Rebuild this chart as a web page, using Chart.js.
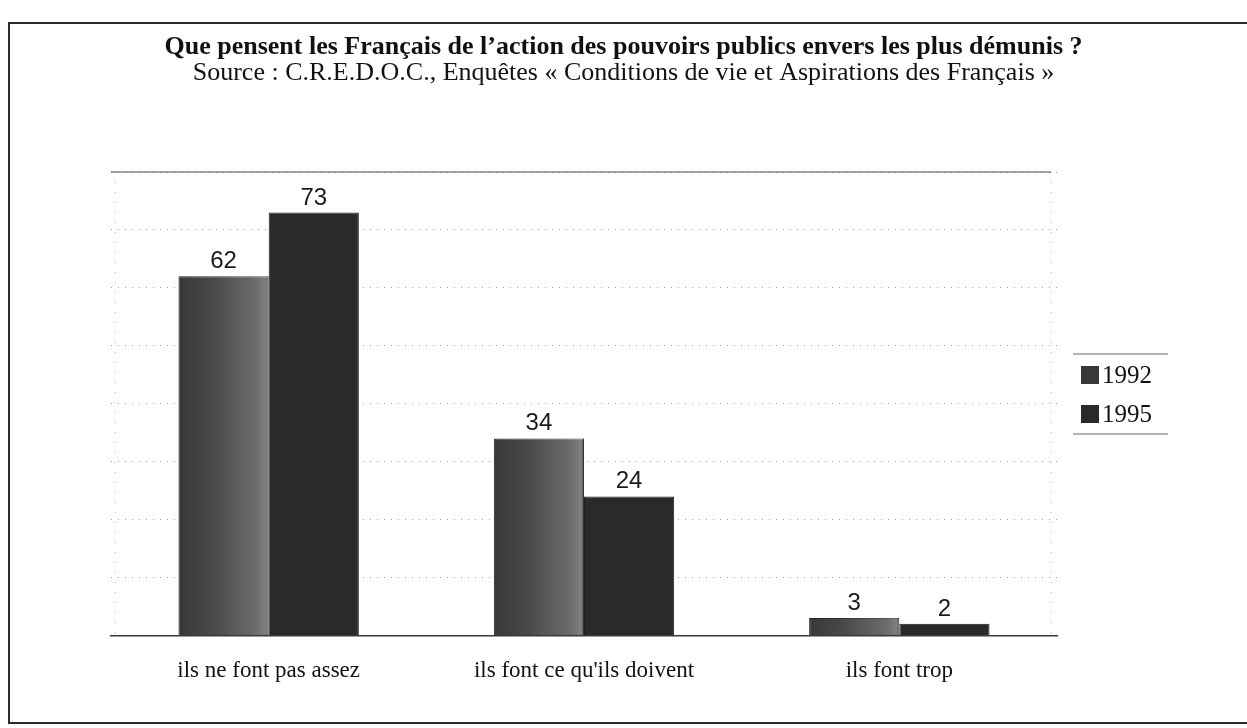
<!DOCTYPE html>
<html>
<head>
<meta charset="utf-8">
<script src="https://cdn.jsdelivr.net/npm/chart.js@4.4.1/dist/chart.umd.min.js"></script>
<style>
  html, body { margin: 0; padding: 0; background: #fff; }
  #wrap { position: relative; width: 1247px; height: 728px; overflow: hidden; }
  #frame { position: absolute; left: 8px; top: 22px; width: 1260px; height: 702px;
           border: 2px solid #2e2a35; border-right: none; box-sizing: border-box; }
  canvas { position: absolute; left: 0; top: 0; }
</style>
</head>
<body>
<div id="wrap">
  <div id="frame"></div>
  <canvas id="c" width="1247" height="728"></canvas>
</div>
<script>
const categories = ["ils ne font pas assez", "ils font ce qu'ils doivent", "ils font trop"];
const seriesNames = ["1992", "1995"];
const values1992 = [62, 34, 3];
const values1995 = [73, 24, 2];
const yTicks = [0, 10, 20, 30, 40, 50, 60, 70, 80];

const titleText = "Que pensent les Français de l\u2019action des pouvoirs publics envers les plus démunis ?";
const subtitleText = "Source : C.R.E.D.O.C., Enquêtes « Conditions de vie et Aspirations des Français »";

const col1992 = '#383838';
const col1995 = '#2a2a2a';

const barLabels = {
  id: 'barLabels',
  beforeDatasetsDraw(chart) {
    const ctx = chart.ctx, a = chart.chartArea;
    ctx.save();
    ctx.strokeStyle = '#b0b0b0';
    ctx.lineWidth = 1;
    ctx.setLineDash([1, 9]);
    ctx.beginPath();
    ctx.moveTo(a.left + 4, a.top); ctx.lineTo(a.left + 4, a.bottom);
    ctx.moveTo(a.right - 6, a.top); ctx.lineTo(a.right - 6, a.bottom);
    ctx.stroke();
    ctx.restore();
  },
  afterDatasetsDraw(chart) {
    const ctx = chart.ctx;
    ctx.save();
    const m0 = chart.getDatasetMeta(0);
    m0.data.forEach(el => {
      const left = el.x - el.width / 2, right = el.x + el.width / 2;
      const g = ctx.createLinearGradient(left, 0, right, 0);
      g.addColorStop(0, 'rgba(255,255,255,0)');
      g.addColorStop(0.35, 'rgba(255,255,255,0.08)');
      g.addColorStop(0.85, 'rgba(255,255,255,0.26)');
      g.addColorStop(0.97, 'rgba(255,255,255,0.36)');
      g.addColorStop(1, 'rgba(255,255,255,0.05)');
      ctx.fillStyle = g;
      ctx.fillRect(left, el.y, el.width, el.base - el.y);
    });
    ctx.font = '24px "Liberation Sans", Arial, sans-serif';
    ctx.fillStyle = '#1a1a1a';
    ctx.textAlign = 'center';
    ctx.textBaseline = 'alphabetic';
    chart.data.datasets.forEach((ds, di) => {
      const meta = chart.getDatasetMeta(di);
      meta.data.forEach((el, i) => {
        ctx.fillText(String(ds.data[i]), el.x, el.y - 8);
      });
    });
    const ys = chart.scales.y;
    const yt = ys.getPixelForValue(ys.max);
    ctx.strokeStyle = '#4a4550';
    ctx.lineWidth = 1.2;
    ctx.beginPath();
    ctx.moveTo(chart.chartArea.left, yt);
    ctx.lineTo(chart.chartArea.right - 6, yt);
    ctx.stroke();
    ctx.restore();
  }
};

const customLegend = {
  id: 'customLegend',
  afterDraw(chart) {
    const ctx = chart.ctx;
    const x0 = chart.chartArea.right + 24;
    const yTop = 354;
    ctx.save();
    ctx.strokeStyle = '#666';
    ctx.lineWidth = 1;
    ctx.beginPath();
    ctx.moveTo(x0 - 8, yTop); ctx.lineTo(x0 + 87, yTop);
    ctx.moveTo(x0 - 8, yTop + 80); ctx.lineTo(x0 + 87, yTop + 80);
    ctx.stroke();
    ctx.font = '25px "Liberation Serif", "Times New Roman", serif';
    ctx.textBaseline = 'middle';
    ctx.textAlign = 'left';
    chart.data.datasets.forEach((ds, i) => {
      const cy = yTop + 21 + i * 39;
      ctx.fillStyle = ds.backgroundColor;
      ctx.fillRect(x0, cy - 9, 18, 18);
      ctx.fillStyle = '#111';
      ctx.fillText(ds.label, x0 + 21, cy + 1);
    });
    ctx.restore();
  }
};

new Chart(document.getElementById('c'), {
  type: 'bar',
  data: {
    labels: categories,
    datasets: [
      { label: seriesNames[0], data: values1992, backgroundColor: col1992, borderColor: '#1e1e1e', borderWidth: 1 },
      { label: seriesNames[1], data: values1995, backgroundColor: col1995, borderColor: '#1e1e1e', borderWidth: 1 }
    ]
  },
  options: {
    responsive: false,
    animation: false,
    devicePixelRatio: 1,
    layout: { padding: { left: 0, right: 0, top: 0, bottom: 21 } },
    datasets: { bar: { barPercentage: 1.0, categoryPercentage: 0.572 } },
    plugins: {
      legend: { display: false },
      tooltip: { enabled: false },
      title: {
        display: true, text: titleText, color: '#111',
        font: { family: '"Liberation Serif", "Times New Roman", serif', size: 26, weight: 'bold', lineHeight: 1.0 },
        padding: { top: 34, bottom: 0 }
      },
      subtitle: {
        display: true, text: subtitleText, color: '#111',
        font: { family: '"Liberation Serif", "Times New Roman", serif', size: 26, weight: 'normal', lineHeight: 1.0 },
        padding: { top: 0, bottom: 86 }
      }
    },
    scales: {
      x: {
        grid: { display: false, drawTicks: false },
        border: { display: true, color: '#3d3845', width: 1.5 },
        ticks: { color: '#111', padding: 22, font: { family: '"Liberation Serif", "Times New Roman", serif', size: 23 } }
      },
      y: {
        min: 0, max: 80,
        afterBuildTicks(scale) { scale.ticks = yTicks.map(v => ({ value: v })); },
        afterFit(scale) { scale.width = 111; },
        ticks: { display: false },
        grid: { color: '#a0a0a0', lineWidth: 1, drawTicks: false },
        border: { display: false, dash: [1, 6] }
      },
      yRight: {
        type: 'linear', position: 'right', min: 0, max: 80,
        afterFit(scale) { scale.width = 190; },
        ticks: { display: false },
        grid: { display: false, drawTicks: false },
        border: { display: false }
      }
    }
  },
  plugins: [barLabels, customLegend]
});
</script>
</body>
</html>
